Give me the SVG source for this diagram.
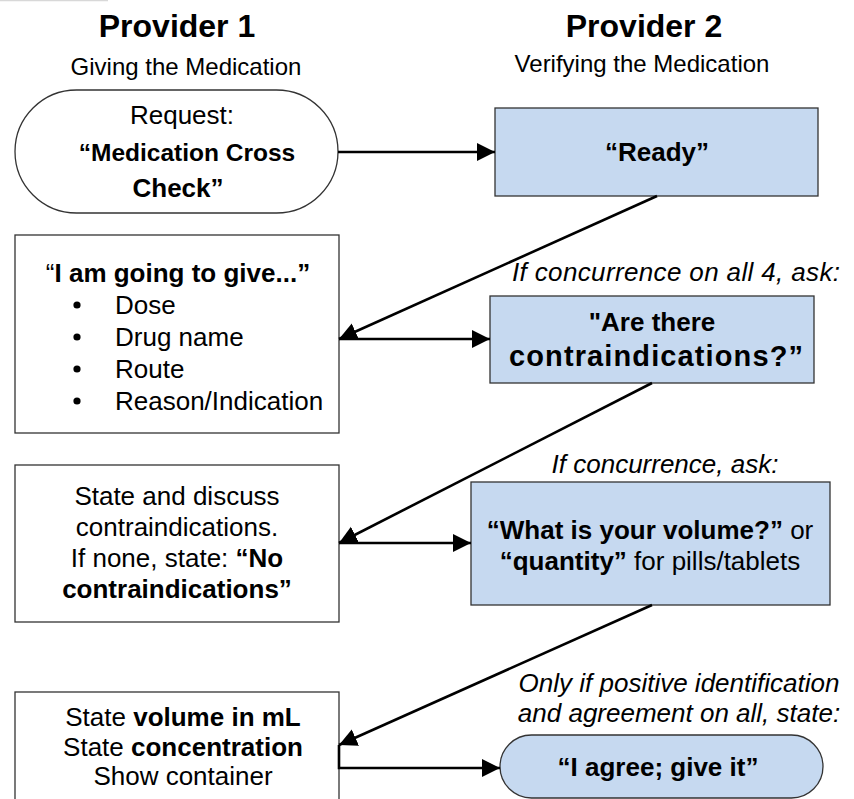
<svg xmlns="http://www.w3.org/2000/svg" width="854" height="799" viewBox="0 0 854 799">
<defs>
<style>
text{font-family:"Liberation Sans",Arial,sans-serif;fill:#000}
.h{font-size:32px;font-weight:bold;text-anchor:middle}
.s{font-size:24px;text-anchor:middle}
.t{font-size:26px}
.c{text-anchor:middle}
.b{font-weight:bold}
.i{font-style:italic}
.box{fill:#fff;stroke:#333;stroke-width:1.3}
.blue{fill:#c6d9f0;stroke:#333;stroke-width:1.3}
.con{fill:none;stroke:#000;stroke-width:2.6;marker-end:url(#ah)}
</style>
<marker id="ah" markerUnits="userSpaceOnUse" markerWidth="20" markerHeight="20" viewBox="0 0 20 20" refX="18" refY="10" orient="auto">
<path d="M0,1 L18,10 L0,19 Z" fill="#000"/>
</marker>
</defs>
<rect width="854" height="799" fill="#fff"/>
<line x1="0" y1="0.5" x2="108" y2="0.5" stroke="#d8d8d8" stroke-width="1.5"/>

<g id="headers">
<text class="h" x="177" y="37">Provider 1</text>
<text class="s" x="186" y="75">Giving the Medication</text>
<text class="h" x="644" y="37">Provider 2</text>
<text class="s" x="642" y="72">Verifying the Medication</text>
</g>

<g id="n-request">
<rect class="box" x="15" y="90" width="323" height="123" rx="61.5" ry="61.5"/>
<text class="t c" x="182" y="124">Request:</text>
<text class="c b" x="187" y="161" font-size="24.5">“Medication Cross</text>
<text class="t c b" x="178" y="197">Check”</text>
</g>

<g id="n-ready">
<rect class="blue" x="495" y="108" width="323" height="88"/>
<text class="t c b" x="657" y="161">“Ready”</text>
</g>

<g id="n-give">
<rect class="box" x="15" y="235" width="324" height="198"/>
<text class="t c" x="178" y="282">“<tspan class="b">I am going to give...”</tspan></text>
<g fill="#000">
<circle cx="77" cy="305" r="3.6"/>
<circle cx="77" cy="337" r="3.6"/>
<circle cx="77" cy="369" r="3.6"/>
<circle cx="77" cy="401" r="3.6"/>
</g>
<text class="t" x="115" y="314">Dose</text>
<text class="t" x="115" y="346">Drug name</text>
<text class="t" x="115" y="378">Route</text>
<text class="t" x="115" y="410">Reason/Indication</text>
</g>

<g id="lbl-1">
<text class="t i" x="512" y="281" textLength="328" lengthAdjust="spacing">If concurrence on all 4, ask:</text>
</g>

<g id="n-contra-q">
<rect class="blue" x="490" y="296" width="324" height="87"/>
<text class="t c b" x="652" y="331">"Are there</text>
<text class="b" x="509" y="366" font-size="29" textLength="294" lengthAdjust="spacing">contraindications?”</text>
</g>

<g id="n-contra-a">
<rect class="box" x="15" y="465" width="324" height="157"/>
<text class="t c" x="177" y="505">State and discuss</text>
<text class="t c" x="177" y="536">contraindications.</text>
<text class="t c" x="177" y="567">If none, state: <tspan class="b">“No</tspan></text>
<text class="t c b" x="177" y="598">contraindications”</text>
</g>

<g id="lbl-2">
<text class="t i c" x="665" y="473">If concurrence, ask:</text>
</g>

<g id="n-volume-q">
<rect class="blue" x="471" y="482" width="359" height="123"/>
<text class="t c" x="650" y="539"><tspan class="b">“What is your volume?”</tspan> or</text>
<text class="t c" x="650" y="570"><tspan class="b">“quantity”</tspan> for pills/tablets</text>
</g>

<g id="lbl-3">
<text class="t i c" x="679" y="692">Only if positive identification</text>
<text class="t i c" x="679" y="722">and agreement on all, state:</text>
</g>

<g id="n-volume-a">
<rect class="box" x="15" y="692" width="324" height="130"/>
<text class="t c" x="183" y="726">State <tspan class="b">volume in mL</tspan></text>
<text class="t c" x="183" y="756">State <tspan class="b">concentration</tspan></text>
<text class="t c" x="183" y="785">Show container</text>
</g>

<g id="n-agree">
<rect class="blue" x="500" y="735" width="323" height="63" rx="31.5" ry="31.5"/>
<text class="t c b" x="658" y="776">“I agree; give it”</text>
</g>

<g id="connectors">
<line class="con" x1="338" y1="152" x2="495" y2="152"/>
<line class="con" x1="657" y1="196" x2="339" y2="339"/>
<line class="con" x1="339" y1="339" x2="490" y2="339"/>
<line class="con" x1="652" y1="383" x2="339" y2="543"/>
<line class="con" x1="339" y1="543" x2="471" y2="543"/>
<line class="con" x1="652" y1="605" x2="339" y2="745"/>
<polyline class="con" points="339,745 339,768 500,768"/>
</g>
</svg>
